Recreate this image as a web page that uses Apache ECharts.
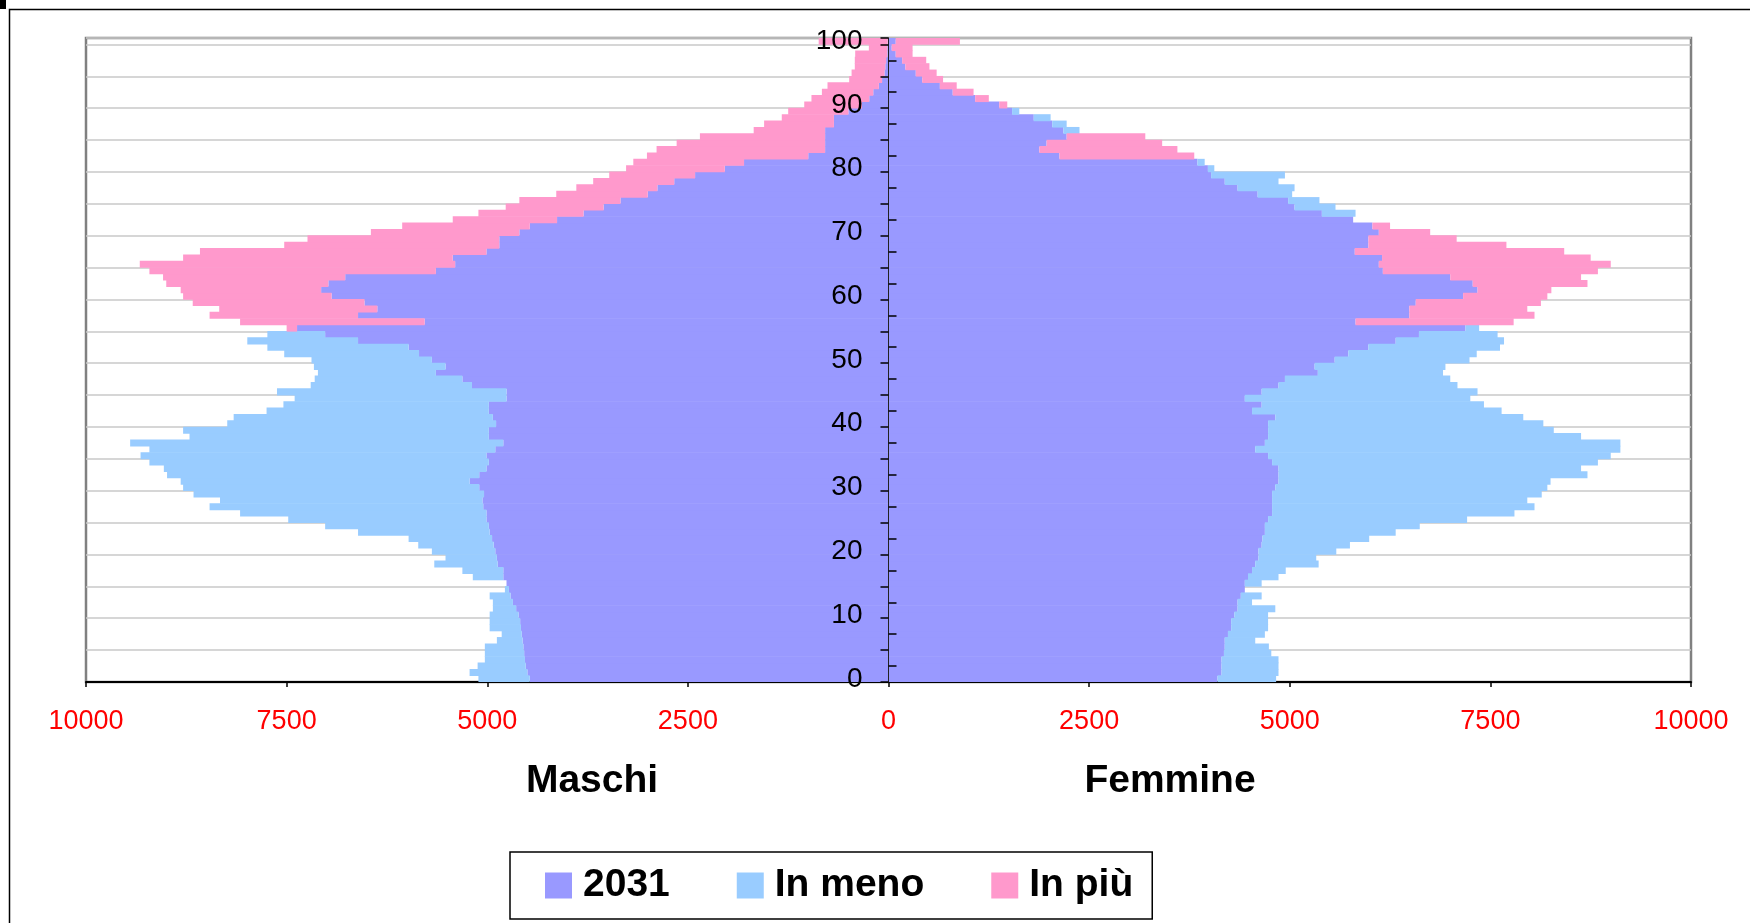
<!DOCTYPE html>
<html>
<head>
<meta charset="utf-8">
<script src="https://cdn.jsdelivr.net/npm/echarts@6/dist/echarts.min.js"></script>
<style>
  html, body { margin: 0; padding: 0; background: #fff; }
  #chart { width: 1750px; height: 923px; }
</style>
</head>
<body>
<div id="chart"></div>
<script>
// età 0..100
const eta = Array.from({ length: 101 }, (_, i) => String(i));
const tickX = [-10000, -7500, -5000, -2500, 0, 2500, 5000, 7500, 10000];

// Maschi
const maschi2031 = [
  4470, 4500, 4520, 4530, 4540, 4550, 4560, 4570, 4580, 4590,
  4610, 4640, 4680, 4710, 4730, 4760, 4800, 4800, 4870, 4880,
  4900, 4920, 4940, 4970, 4980, 5010, 5010, 5050, 5060, 5040,
  5100, 5220, 5100, 5010, 4980, 5010, 4900, 4800, 4980, 4980,
  4890, 4930, 4980, 4980, 4760, 4760, 5190, 5310, 5640, 5520,
  5690, 5850, 5980, 6610, 7020, 7370, 5780, 6610, 6370, 6530,
  6940, 7070, 6980, 6770, 5640, 5400, 5430, 5010, 4850, 4850,
  4600, 4470, 4130, 3800, 3550, 3340, 3000, 2880, 2670, 2410,
  2040, 1800, 1000, 790, 790, 790, 790, 680, 680, 500,
  330, 240, 190, 120, 80, 50, 40, 30, 15, 15,
  10
];
const maschiMeno = [
  640, 720, 600, 500, 490, 480, 320, 250, 390, 380,
  360, 290, 250, 260, 50, 0, 380, 510, 790, 640,
  790, 940, 1040, 1640, 2040, 2470, 3070, 3410, 3270, 3620,
  3690, 3600, 3890, 4020, 4230, 4310, 4310, 4650, 3730, 3810,
  3350, 3230, 2770, 2560, 2640, 2860, 2010, 1840, 1470, 1640,
  1500, 1680, 1760, 1380, 720, 0, 0, 0, 0, 0,
  0, 0, 0, 0, 0, 0, 0, 0, 0, 0,
  0, 0, 0, 0, 0, 0, 0, 0, 0, 0,
  0, 0, 0, 0, 0, 0, 0, 0, 0, 0,
  0, 0, 0, 0, 0, 0, 0, 0, 0, 0,
  0
];
const maschiPiu = [
  0, 0, 0, 0, 0, 0, 0, 0, 0, 0,
  0, 0, 0, 0, 0, 0, 0, 0, 0, 0,
  0, 0, 0, 0, 0, 0, 0, 0, 0, 0,
  0, 0, 0, 0, 0, 0, 0, 0, 0, 0,
  0, 0, 0, 0, 0, 0, 0, 0, 0, 0,
  0, 0, 0, 0, 0, 130, 2300, 1850, 1970, 2140,
  1850, 1750, 2020, 2270, 3570, 3930, 3360, 3570, 2680, 2390,
  1850, 1590, 1300, 1310, 1220, 1260, 1140, 1010, 1010, 1070,
  1230, 1380, 2010, 2100, 1850, 1560, 890, 870, 650, 750,
  720, 720, 640, 640, 410, 410, 380, 390, 400, 230,
  860
];

// Femmine
const femmine2031 = [
  4100, 4150, 4150, 4150, 4180, 4190, 4190, 4230, 4270, 4270,
  4310, 4350, 4350, 4390, 4440, 4440, 4480, 4530, 4570, 4610,
  4610, 4650, 4660, 4690, 4690, 4730, 4780, 4780, 4780, 4780,
  4820, 4860, 4860, 4860, 4780, 4730, 4570, 4690, 4730, 4730,
  4730, 4820, 4530, 4650, 4440, 4650, 4860, 4940, 5350, 5310,
  5560, 5730, 5980, 6320, 6610, 7190, 5820, 6490, 6490, 6570,
  7160, 7340, 7280, 7000, 6160, 6110, 6150, 5810, 5980, 5980,
  6110, 6030, 5790, 5400, 5060, 4980, 4600, 4350, 4190, 4020,
  3980, 3850, 2130, 1880, 1970, 2220, 2180, 2040, 1810, 1540,
  1380, 1080, 800, 640, 420, 340, 210, 170, 90, 40,
  90
];
const femmineMeno = [
  730, 710, 710, 710, 590, 550, 380, 460, 460, 460,
  420, 470, 180, 260, 0, 210, 380, 420, 790, 720,
  970, 1100, 1330, 1630, 1930, 2480, 3020, 3270, 3180, 3360,
  3390, 3390, 3850, 3770, 4060, 4270, 4550, 4430, 3900, 3560,
  3430, 3090, 3110, 2770, 2810, 2690, 2230, 2060, 1560, 1630,
  1680, 1600, 1640, 1350, 980, 170, 0, 0, 0, 0,
  0, 0, 0, 0, 0, 0, 0, 0, 0, 0,
  0, 0, 0, 420, 510, 390, 430, 710, 670, 920,
  80, 90, 0, 0, 0, 0, 200, 180, 210, 90,
  0, 0, 0, 0, 0, 0, 0, 0, 0, 0,
  0
];
const femminePiu = [
  0, 0, 0, 0, 0, 0, 0, 0, 0, 0,
  0, 0, 0, 0, 0, 0, 0, 0, 0, 0,
  0, 0, 0, 0, 0, 0, 0, 0, 0, 0,
  0, 0, 0, 0, 0, 0, 0, 0, 0, 0,
  0, 0, 0, 0, 0, 0, 0, 0, 0, 0,
  0, 0, 0, 0, 0, 0, 1970, 1560, 1470, 1560,
  1050, 920, 1430, 1630, 2680, 2890, 2600, 2610, 1720, 1100,
  640, 220, 0, 0, 0, 0, 0, 0, 0, 0,
  0, 0, 1680, 1720, 1440, 980, 0, 0, 0, 0,
  100, 170, 260, 210, 260, 260, 300, 300, 210, 260,
  800
];

const font = "'Liberation Sans', Arial, sans-serif";
const viola = '#9999FF', azzurro = '#99CCFF', rosa = '#FF99CC';
const neg = arr => arr.map(v => -v);
// tacche sul lato destro dell'asse, a metà tra le linee della griglia
const tickDestra = [];
for (let v = 2.5; v < 101; v += 5) tickDestra.push(v);

// area del grafico
const gLeft = 86, gRight = 59, gWidth = 1750 - gLeft - gRight;

function barre(nome, dati, colore) {
  return {
    name: nome,
    type: 'bar',
    stack: 'piramide',
    data: dati,
    barWidth: '110%',
    silent: true,
    itemStyle: { color: colore },
    emphasis: { disabled: true }
  };
}

let myChart = echarts.init(document.getElementById('chart'));
myChart.setOption({
  animation: false,
  backgroundColor: '#fff',
  textStyle: { fontFamily: font },
  grid: {
    left: gLeft, right: gRight, top: 38, bottom: 241,
    show: true, borderColor: '#808080', borderWidth: 2.5,
    backgroundColor: '#fff', containLabel: false, outerBoundsMode: 'none'
  },
  xAxis: {
    type: 'value',
    min: tickX[0],
    max: tickX[tickX.length - 1],
    interval: 2500,
    axisLine: { onZero: false, lineStyle: { color: '#000', width: 2 } },
    axisTick: { show: true, length: 5, lineStyle: { color: '#000', width: 1.5 } },
    axisLabel: {
      color: '#FF0000', fontSize: 27, margin: 26, fontFamily: font,
      formatter: v => String(Math.abs(v))
    },
    splitLine: { show: false }
  },
  yAxis: [
    {
      // solo linee della griglia, dietro le barre
      type: 'category',
      data: eta,
      position: 'left',
      axisLine: { show: false, onZero: false },
      axisTick: { show: false },
      axisLabel: { show: false },
      splitLine: { show: true, interval: 4, lineStyle: { color: '#c8c8c8', width: 1.5 } }
    },
    {
      // asse centrale con le età
      type: 'category',
      data: eta,
      position: 'left',
      offset: -gWidth / 2,
      z: 10,
      axisLine: { show: true, onZero: false, lineStyle: { color: '#222', width: 1 } },
      axisTick: { show: true, interval: 4, length: 8, lineStyle: { color: '#000', width: 1.5 } },
      axisLabel: { interval: 9, fontSize: 28, color: '#000', margin: 26, fontFamily: font },
      splitLine: { show: false }
    },
    {
      type: 'value',
      min: 0,
      max: 101,
      position: 'right',
      offset: -gWidth / 2,
      z: 10,
      axisLine: { show: false, onZero: false },
      axisTick: { show: true, customValues: tickDestra, length: 8, lineStyle: { color: '#000', width: 1.5 } },
      axisLabel: { show: false },
      splitLine: { show: false }
    }
  ],
  legend: {
    data: ['2031', 'In meno', 'In più'],
    left: 510,
    top: 852,
    icon: 'rect',
    itemWidth: 27,
    itemHeight: 26,
    itemGap: 67,
    padding: [14, 19, 14, 35],
    borderColor: '#000',
    borderWidth: 1.5,
    selectedMode: false,
    textStyle: { fontSize: 39, fontWeight: 'bold', color: '#000', fontFamily: font, padding: [0, 0, 0, 6] }
  },
  graphic: [
    { type: 'rect', silent: true, shape: { x: 9.5, y: 9.5, width: 1800, height: 1000 }, style: { fill: 'none', stroke: '#000', lineWidth: 1.5 } },
    { type: 'rect', silent: true, shape: { x: 0, y: 0, width: 6, height: 9 }, style: { fill: '#000' } },
    { type: 'text', silent: true, x: 592, y: 781, style: { text: 'Maschi', fontSize: 39, fontWeight: 'bold', fontFamily: font, fill: '#000', align: 'center', verticalAlign: 'middle' } },
    { type: 'text', silent: true, x: 1170, y: 781, style: { text: 'Femmine', fontSize: 39, fontWeight: 'bold', fontFamily: font, fill: '#000', align: 'center', verticalAlign: 'middle' } }
  ],
  series: [
    barre('2031', neg(maschi2031), viola),
    barre('2031', femmine2031, viola),
    barre('In meno', neg(maschiMeno), azzurro),
    barre('In meno', femmineMeno, azzurro),
    barre('In più', neg(maschiPiu), rosa),
    barre('In più', femminePiu, rosa)
  ]
});
</script>
</body>
</html>
